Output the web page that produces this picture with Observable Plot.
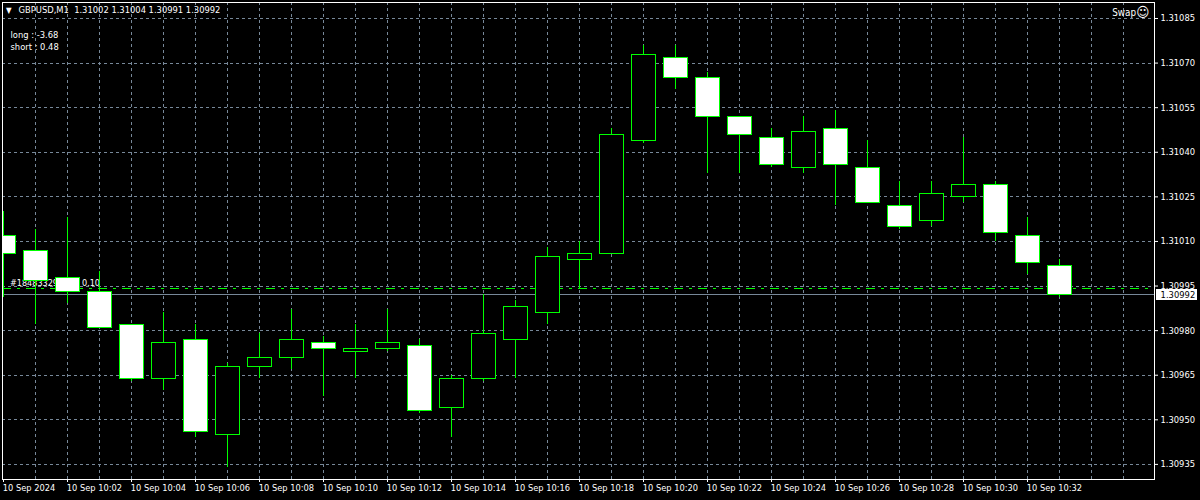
<!DOCTYPE html>
<html><head><meta charset="utf-8">
<style>html,body{margin:0;padding:0;background:#000}svg{display:block}</style>
<script src="https://cdn.jsdelivr.net/npm/d3@7"></script>
<script src="https://cdn.jsdelivr.net/npm/@observablehq/plot@0.6"></script>
</head><body>
<div id="chart"></div>
<script>
// minutes after 10:00 on 10 Sep 2024
const minutes = d3.range(0, 34);
const open  = [1.31012,1.31007,1.30998,1.30993,1.30982,1.30964,1.30977,1.30945,1.30968,1.30971,1.30976,1.30973,1.30974,1.30975,1.30954,1.30964,1.30977,1.30986,1.31004,1.31006,1.31044,1.31072,1.31065,1.31052,1.31045,1.31035,1.31048,1.31035,1.31022,1.31017,1.31025,1.31029,1.31012,1.31002];
const close = [1.31006,1.30997,1.30993,1.30981,1.30964,1.30976,1.30946,1.30968,1.30971,1.30977,1.30974,1.30974,1.30976,1.30953,1.30964,1.30979,1.30988,1.31005,1.31006,1.31046,1.31073,1.31065,1.31052,1.31046,1.31036,1.31047,1.31036,1.31023,1.31015,1.31026,1.31029,1.31013,1.31003,1.30992];
const high  = [1.31020,1.31014,1.31018,1.31000,1.30982,1.30986,1.30982,1.30969,1.30979,1.30987,1.30978,1.30982,1.30987,1.30977,1.30965,1.30992,1.30990,1.31008,1.31010,1.31048,1.31076,1.31076,1.31067,1.31052,1.31048,1.31052,1.31054,1.31044,1.31030,1.31030,1.31045,1.31030,1.31018,1.31004];
const low   = [1.30991,1.30982,1.30989,1.30981,1.30963,1.30960,1.30944,1.30934,1.30964,1.30967,1.30958,1.30964,1.30973,1.30952,1.30944,1.30963,1.30964,1.30982,1.30994,1.31006,1.31043,1.31061,1.31033,1.31033,1.31035,1.31033,1.31022,1.31023,1.31014,1.31015,1.31023,1.31010,1.30999,1.30991];
const priceTicks = [1.31085,1.31070,1.31055,1.31040,1.31025,1.31010,1.30995,1.30980,1.30965,1.30950,1.30935];
const timeGrid = d3.range(1, 36);
const timeTicks = [0,2,4,6,8,10,12,14,16,18,20,22,24,26,28,30,32];
const timeLabels = ["10 Sep 2024","10 Sep 10:02","10 Sep 10:04","10 Sep 10:06","10 Sep 10:08","10 Sep 10:10","10 Sep 10:12","10 Sep 10:14","10 Sep 10:16","10 Sep 10:18","10 Sep 10:20","10 Sep 10:22","10 Sep 10:24","10 Sep 10:26","10 Sep 10:28","10 Sep 10:30","10 Sep 10:32"];
const bidPrice = 1.30992;
const orderPrice = 1.309943;
const headerText = "GBPUSD,M1  1.31002 1.31004 1.30991 1.30992";
const infoLong = "long : -3.68";
const infoShort = "short : 0.48";
const orderText = "#184833295 sell 0.10";

const candles = minutes.map((m, i) => ({m, o: open[i], c: close[i], h: high[i], l: low[i], top: Math.max(open[i], close[i]), bot: Math.min(open[i], close[i])}));
const GREEN = "#00ff00", GRID = "#778899", FS = 9.3;
const halfBody = 0.375;
const crisp = {shapeRendering: "crispEdges", clip: "frame"};
const label = (text, opts) => Plot.text([text], {text: d => d, fill: "#fff", fontSize: FS, lineAnchor: "middle", ...opts});

const plot = Plot.plot({
  width: 1200, height: 500,
  marginLeft: 2, marginRight: 46, marginTop: 2, marginBottom: 21,
  style: {background: "#000", color: "#fff", fontFamily: "'DejaVu Sans Condensed','DejaVu Sans',sans-serif", fontSize: "9.3px", fontStretch: "condensed"},
  x: {type: "linear", domain: [0, 36], range: [3, 1155]},
  y: {type: "linear", domain: [1.30935, 1.31085], range: [463.9, 18]},
  marks: [
    Plot.ruleY(priceTicks, {stroke: GRID, strokeWidth: 1, strokeDasharray: "3,3", ...crisp}),
    Plot.ruleX(timeGrid, {stroke: GRID, strokeWidth: 1, strokeDasharray: "3,3", ...crisp}),
    label(orderText, {frameAnchor: "top-left", dx: 7.5, dy: 281, textAnchor: "start", fontSize: 9}),
    Plot.ruleY([orderPrice], {stroke: GREEN, strokeWidth: 1, strokeDasharray: "9,6,3,6", ...crisp}),
    Plot.ruleY([bidPrice], {stroke: GRID, strokeWidth: 1, ...crisp}),
    Plot.ruleX(candles, {x: "m", y1: "l", y2: "h", stroke: GREEN, strokeWidth: 1, ...crisp}),
    Plot.rect(candles, {x1: d => d.m - halfBody, x2: d => d.m + halfBody, y1: "bot", y2: "top", dy: 0.5, fill: d => d.c < d.o ? "#fff" : "#000", stroke: GREEN, strokeWidth: 1, ...crisp}),
    Plot.frame({stroke: "#fff", strokeWidth: 1, shapeRendering: "crispEdges"}),
    Plot.axisY(priceTicks, {anchor: "right", tickSize: 3, tickPadding: 3, stroke: "#fff", color: "#fff", tickFormat: d => d.toFixed(5), fontSize: FS, label: null}),
    Plot.axisX(timeTicks, {anchor: "bottom", tickSize: 3, stroke: "#fff", tickFormat: () => "", label: null}),
    Plot.axisX(timeTicks, {anchor: "bottom", tickSize: 0, tickPadding: 5, dx: -0.7, tickFormat: (d, i) => timeLabels[i], textAnchor: "start", fontSize: 9.2, label: null}),
    Plot.ruleY([bidPrice], {x1: 36.03, x2: 37.31, stroke: "#fff", strokeWidth: 11, shapeRendering: "crispEdges"}),
    Plot.text([bidPrice], {x: 36.16, y: d => d, text: d => d.toFixed(5), textAnchor: "start", fill: "#000", fontSize: FS}),
    label(headerText, {frameAnchor: "top-left", dx: 16, dy: 8, textAnchor: "start"}),
    label("▼", {frameAnchor: "top-left", dx: 3.5, dy: 8, textAnchor: "start", fontSize: 8}),
    label(infoLong, {frameAnchor: "top-left", dx: 8, dy: 33, textAnchor: "start"}),
    label(infoShort, {frameAnchor: "top-left", dx: 8, dy: 45, textAnchor: "start"}),
    label("Swap", {frameAnchor: "top-right", dx: -18.5, dy: 10, textAnchor: "end", fontSize: 9.8}),
    label("☺", {frameAnchor: "top-right", dx: -5, dy: 10, textAnchor: "end", fontSize: 14})
  ]
});
document.getElementById("chart").appendChild(plot);
</script>
</body></html>
